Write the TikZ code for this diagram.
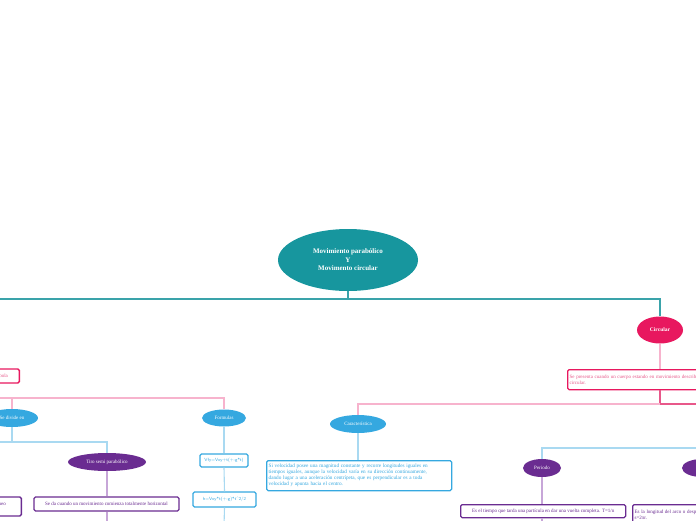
\documentclass[tikz,border=0pt]{standalone}
\usepackage{fontspec}
\setmainfont{Liberation Serif}
\usetikzlibrary{shapes.geometric}
\definecolor{tealc}{HTML}{17969E}
\definecolor{tealline}{HTML}{3AA3AA}
\definecolor{crim}{HTML}{E8185F}
\definecolor{pinkl}{HTML}{F7B3CD}
\definecolor{pinkd}{HTML}{E8588A}
\definecolor{bluec}{HTML}{35A8E0}
\definecolor{bluel}{HTML}{A9D9F1}
\definecolor{purc}{HTML}{6A2C91}
\definecolor{purl}{HTML}{C7A6D8}
\tikzset{
  ell/.style={ellipse, inner sep=0pt, text=white, align=center, font=\fontsize{5}{6}\selectfont},
  tealln/.style={draw=tealline, line width=1.3pt},
  pinkln/.style={draw=pinkl, line width=1.1pt},
  pinkdk/.style={draw=pinkd, line width=1.3pt},
  blueln/.style={draw=bluel, line width=1.1pt},
  purln/.style={draw=purl, line width=1.1pt},
  tbox/.style={rectangle, rounded corners=1.5pt, fill=white, line width=1.3pt, inner sep=2pt, align=left, font=\fontsize{5}{6}\selectfont},
  pinkbox/.style={tbox, draw=crim, text=pinkd},
  bluebox/.style={tbox, draw=bluec, text=bluec},
  purbox/.style={tbox, draw=purc, text=purc}
}
\begin{document}
\begin{tikzpicture}[x=1pt,y=-1pt]
\useasboundingbox (0,0) rectangle (696,520);
\clip (0,0) rectangle (696,520);

% coordinates
\coordinate (j0) at (348,299);
\coordinate (offL0) at (-10,299);
\coordinate (j1) at (660,404);
\coordinate (offR1) at (706,404);
\coordinate (j2) at (542,448);
\coordinate (offR2) at (706,448);
\coordinate (j3) at (-10,398);
\coordinate (j4) at (-10,442);
\coordinate (endT) at (107,526);
\coordinate (endF) at (224,526);
\coordinate (endP) at (542,526);

% nodes
\node[ell, fill=tealc, minimum width=140pt, minimum height=62pt, font=\bfseries\fontsize{7}{8.5}\selectfont] (root) at (348,260) {Movimiento parabólico\\Y\\Movimento circular};
\node[ell, fill=crim, minimum width=46pt, minimum height=27pt, font=\bfseries\fontsize{5.5}{6}\selectfont] (circ) at (660,330) {Circular};
\node[pinkbox, anchor=north west, minimum height=20pt, text width=220pt] (circbox) at (567,369) {Se presenta cuando un cuerpo estando en movimiento describe una trayectoria\\circular.};
\node[ell, fill=bluec, minimum width=56pt, minimum height=18pt] (car) at (358,424) {Característica};
\node[bluebox, anchor=north west, minimum height=30pt, text width=181pt, font=\fontsize{5.2}{6}\selectfont] (carbox) at (266,460) {Si velocidad posee una magnitud constante y recorre longitudes iguales en\\tiempos iguales, aunque la velocidad varía en su dirección continuamente,\\dando lugar a una aceleración centrípeta, que es perpendicular es a toda\\velocidad y apunta hacia el centro.};
\node[ell, fill=purc, minimum width=38pt, minimum height=18pt] (per) at (542,468) {Periodo};
\node[ell, fill=purc, minimum width=40pt, minimum height=18pt] (per2) at (702,468) {};
\node[purbox, anchor=north west, minimum height=13pt, minimum width=165pt] (perbox) at (460,504) {Es el tiempo que tarda una partícula en dar una vuelta completa. T=1/n};
\node[purbox, anchor=north west, minimum height=20pt, text width=150pt] (per2box) at (632,504) {Es la longitud del arco o desplazamiento\\s=2πr.};

\node[pinkbox, anchor=east, minimum height=14pt, minimum width=40pt, align=right] (parbox) at (20,376) {parábola};
\node[ell, fill=bluec, minimum width=52pt, minimum height=18pt] (sdiv) at (12,418) {Se divide en};
\node[ell, fill=bluec, minimum width=44pt, minimum height=17pt] (form) at (224,418) {Formulas};
\node[ell, fill=purc, minimum width=78pt, minimum height=18pt] (tiro) at (107,462) {Tiro semi parabólico};
\node[purbox, minimum height=14pt, minimum width=145pt, align=center] (tirobox) at (106.5,504) {Se da cuando un movimiento comienza totalmente horizontal};
\node[purbox, anchor=east, minimum height=19pt, minimum width=50pt, align=right] (rectbox) at (22,506.5) {rectilíneo\\ };
\node[bluebox, minimum height=13pt, minimum width=48pt, align=center, font=\sffamily\fontsize{4.5}{5}\selectfont] (f1) at (224,460.5) {Vfy=Voy+t(+-g*t)};
\node[bluebox, minimum height=15pt, minimum width=63pt, align=center, font=\sffamily\fontsize{4.5}{5}\selectfont] (f2) at (224.5,499.5) {h=Voy*t(+-g)*t\^{}2/2};

% connectors
\draw[tealln] (root.south) -- (j0);
\draw[tealln] (j0) -| (circ.north);
\draw[tealln] (j0) -- (offL0);
\draw[pinkln] (circ.south) -- (circ.south |- circbox.north);
\draw[pinkdk] (circ.south |- circbox.south) -- (j1) -- (offR1);
\draw[pinkln] (j1) -| (car.north);
\draw[blueln] (car.south) -- (car.south |- carbox.north);
\draw[blueln] (offR2) -- (j2) -- (per.north);
\draw[purln] (per.south) -- (per.south |- perbox.north);
\draw[purln] (per.south |- perbox.south) -- (endP);

\draw[pinkln] (j3) -| (form.north);
\draw[pinkln] (sdiv.north |- j3) -- (sdiv.north);
\draw[blueln] (sdiv.south) -- (sdiv.south |- j4);
\draw[blueln] (j4) -| (tiro.north);
\draw[purln] (tiro.south) -- (tiro.south |- tirobox.north);
\draw[purln] (tiro.south |- tirobox.south) -- (endT);
\draw[blueln] (form.south) -- (f1.north);
\draw[blueln] (f1.south) -- (f2.north);
\draw[blueln] (f2.south) -- (endF);
\end{tikzpicture}
\end{document}
